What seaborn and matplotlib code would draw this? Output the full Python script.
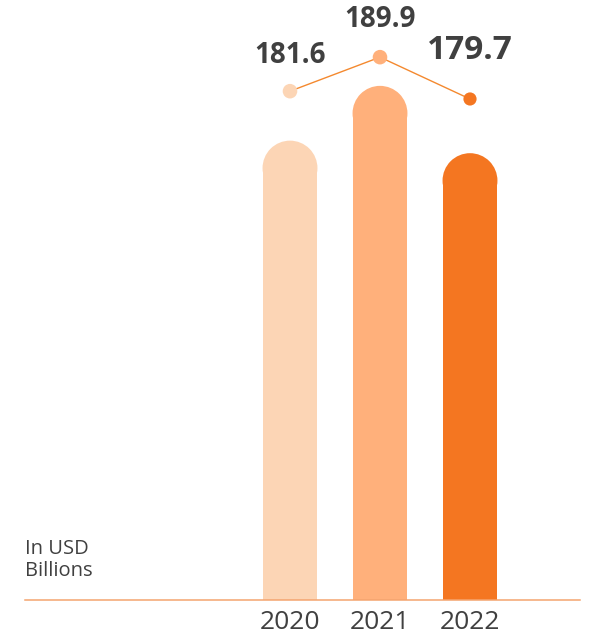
import numpy as np
import pandas as pd
import seaborn as sns
import matplotlib.pyplot as plt
from matplotlib.patches import Ellipse

years = ['2020', '2021', '2022']
revenue = [181.6, 189.9, 179.7]
colors = ['#fcd5b5', '#ffb07b', '#f47621']
label_sizes = [20, 20, 24]
label_offsets = [26, 27, 35]

sns.set_style('white')
plt.rcParams['font.family'] = ['Open Sans', 'DejaVu Sans']

df = pd.DataFrame({'year': years, 'value': revenue})

fig = plt.figure(figsize=(5.91, 6.36), dpi=100)
# axes runs from x=25px to x=580px, baseline at y=600px
ax = fig.add_axes([25 / 591, 36 / 636, 555 / 591, 600 / 636])

bar_w = 0.61
sns.barplot(data=df, x='year', y='value', hue='year', palette=colors,
            legend=False, width=bar_w, ax=ax, saturation=1,
            linewidth=0, edgecolor='none')

px_x = 90.0   # pixels per x unit
px_y = 6.6    # pixels per y unit
ymin = 112.0
ax.set_xlim(-265 / px_x, 290 / px_x)
ax.set_ylim(ymin, ymin + 600 / px_y)

# rounded tops: shorten each bar by the cap radius and add a half circle
r_y = (bar_w / 2) * px_x / px_y
for p, c in zip(list(ax.patches), colors):
    x0, w, h = p.get_x(), p.get_width(), p.get_height()
    p.set_height(h - r_y)
    cap = Ellipse((x0 + w / 2, h - r_y), w, 2 * r_y, facecolor=c, edgecolor='none',
                  linewidth=0, zorder=2)
    ax.add_patch(cap)

for s in ['top', 'left', 'right']:
    ax.spines[s].set_visible(False)
ax.spines['bottom'].set_color('#f4a46f')
ax.spines['bottom'].set_linewidth(1.1)
ax.set_yticks([])
ax.set_xlabel('')
ax.set_ylabel('')
ax.tick_params(axis='x', length=0, pad=7, labelsize=19, labelcolor='#404040')

# trend line with dots on its own scale
ax2 = ax.twinx()
pos = np.arange(len(years))
w0 = 57.5
ax2.set_ylim(w0, w0 + 600 / 4.1)
sns.lineplot(x=pos, y=revenue, ax=ax2, color='#f4892f', linewidth=1.0, zorder=3)
sns.scatterplot(x=pos, y=revenue, hue=years, palette=colors, s=[110, 110, 90],
                legend=False, edgecolor='none', ax=ax2, zorder=4)
for i, v in enumerate(revenue):
    ax2.annotate(f'{v}', (pos[i], v), xytext=(0, label_offsets[i]), textcoords='offset points',
                 ha='center', va='center', fontsize=label_sizes[i], fontweight='bold',
                 color='#404040')
ax2.set_yticks([])
ax2.set_ylabel('')
for s in ax2.spines.values():
    s.set_visible(False)
ax.set_xlim(-265 / px_x, 290 / px_x)

fig.text(25 / 591, 1 - 581 / 636, 'In USD\nBillions', fontsize=14.5, color='#404040',
         ha='left', va='bottom', linespacing=1.1)

fig.savefig('out.png', dpi=100)
